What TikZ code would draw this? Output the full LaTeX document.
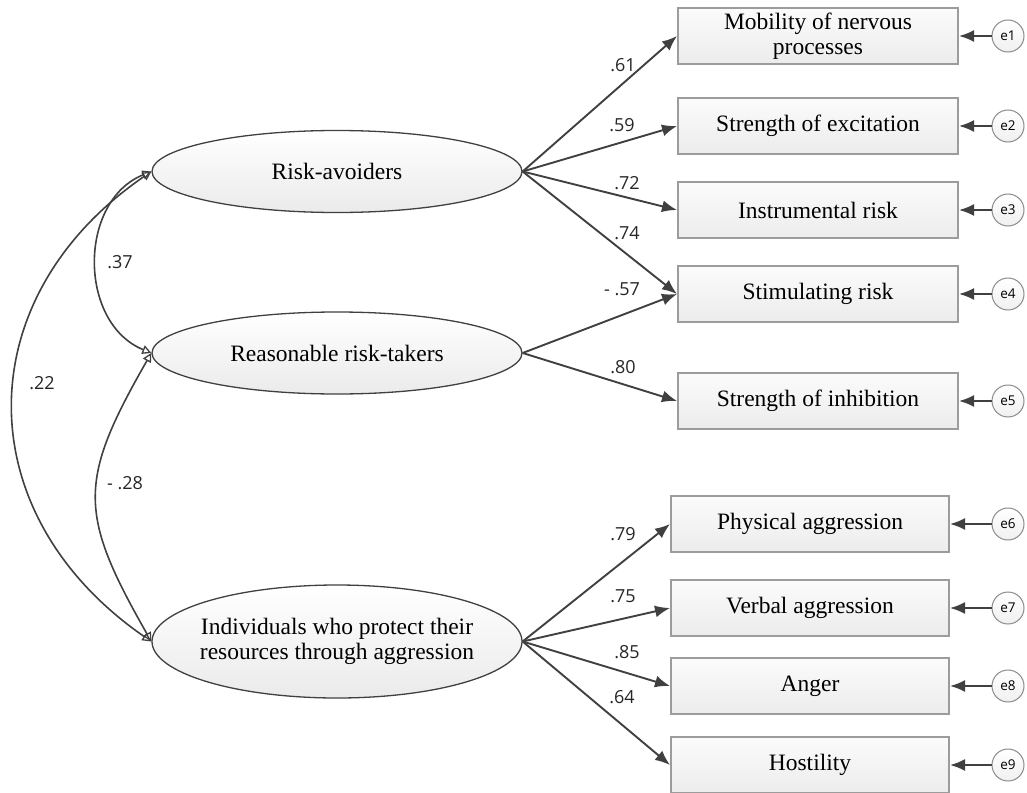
\documentclass[tikz,border=0pt]{standalone}
\usepackage{fontspec}
\setmainfont{Liberation Serif}
\newfontfamily\numfont{Open Sans}
\usetikzlibrary{arrows.meta,shapes.geometric}
\definecolor{lineC}{HTML}{404040}
\definecolor{boxC}{HTML}{9C9C9C}
\definecolor{circC}{HTML}{8A8A8A}
\begin{document}
\begin{tikzpicture}[x=1pt,y=-1pt,
  txt/.style={font=\fontsize{23.5}{25}\selectfont, align=center, text=black},
  latent/.style={ellipse, draw=lineC, line width=1.3pt, top color=white, bottom color=gray!16,
     minimum width=370pt, inner sep=0pt},
  obs/.style={rectangle, draw=boxC, line width=2pt, top color=gray!3, bottom color=gray!15,
     minimum height=56pt, inner sep=0pt, txt},
  obsT/.style={obs, minimum width=280pt},
  obsB/.style={obs, minimum width=278pt},
  err/.style={circle, draw=circC, line width=1pt, top color=white, bottom color=gray!12,
     minimum size=32pt, inner sep=0pt, font=\numfont\fontsize{13.5}{15}\selectfont},
  load/.style={draw=lineC, line width=1.9pt, -{Latex[length=15pt,width=12pt]}},
  cov/.style={draw=lineC, line width=1.6pt,
     {Triangle[open,length=9pt,width=9pt,line width=1.3pt]}-{Triangle[open,length=9pt,width=9pt,line width=1.3pt]}},
  lbl/.style={font=\numfont\fontsize{18}{20}\selectfont, text=black!85, inner sep=0pt}
]
\useasboundingbox (0,0) rectangle (1027,792);

% latent variables
\node[latent, minimum height=82pt, label={[txt]center:Risk-avoiders}] (ra) at (337,171.5) {};
\node[latent, minimum height=82pt, label={[txt]center:Reasonable risk-takers}] (rr) at (337,353) {};
\node[latent, minimum height=113pt, label={[txt]center:Individuals who protect their\\resources through aggression}] (ind) at (337,641.5) {};

% observed variables
\node[obsT] (o1) at (818,36) {Mobility of nervous\\processes};
\node[obsT] (o2) at (818,126) {Strength of excitation};
\node[obsT] (o3) at (818,210) {Instrumental risk};
\node[obsT] (o4) at (818,294) {Stimulating risk};
\node[obsT] (o5) at (818,401) {Strength of inhibition};
\node[obsB] (o6) at (810,524) {Physical aggression};
\node[obsB] (o7) at (810,608) {Verbal aggression};
\node[obsB] (o8) at (810,686) {Anger};
\node[obsB] (o9) at (810,765) {Hostility};

% error terms
\foreach \i/\y in {1/36,2/126,3/210,4/294,5/401,6/524,7/608,8/686,9/765}{
  \node[err] (e\i) at (1008,\y) {e\i};
  \draw[load] (e\i) -- (o\i.east);
}

% loadings
\draw[load] (ra.east) -- (o1.west);
\draw[load] (ra.east) -- (o2.west);
\draw[load] (ra.east) -- (o3.west);
\draw[load] (ra.east) -- (o4.west);
\draw[load] (rr.east) -- (o4.west);
\draw[load] (rr.east) -- (o5.west);
\draw[load] (ind.east) -- (o6.west);
\draw[load] (ind.east) -- (o7.west);
\draw[load] (ind.east) -- (o8.west);
\draw[load] (ind.east) -- (o9.west);

% covariances
\draw[cov] (ra.west) .. controls (78,201) and (78,323) .. (rr.west);
\draw[cov] (rr.west) .. controls (78,481) and (78,513) .. (ind.west);
\draw[cov] (ra.west) .. controls (-33,298) and (-33,514) .. (ind.west);

% coefficient labels
\node[lbl] (l1) at (623,65) {.61};
\node[lbl] (l2) at (622,125) {.59};
\node[lbl] (l3) at (627,183) {.72};
\node[lbl] (l4) at (627,233) {.74};
\node[lbl] (l5) at (622,289) {- .57};
\node[lbl] (l6) at (623,367) {.80};
\node[lbl] (l7) at (623,534) {.79};
\node[lbl] (l8) at (623,596) {.75};
\node[lbl] (l9) at (627,652) {.85};
\node[lbl] (l10) at (622,697) {.64};
\node[lbl] (c1) at (120,262) {.37};
\node[lbl] (c2) at (42,383) {.22};
\node[lbl] (c3) at (125,483) {- .28};
\end{tikzpicture}
\end{document}
